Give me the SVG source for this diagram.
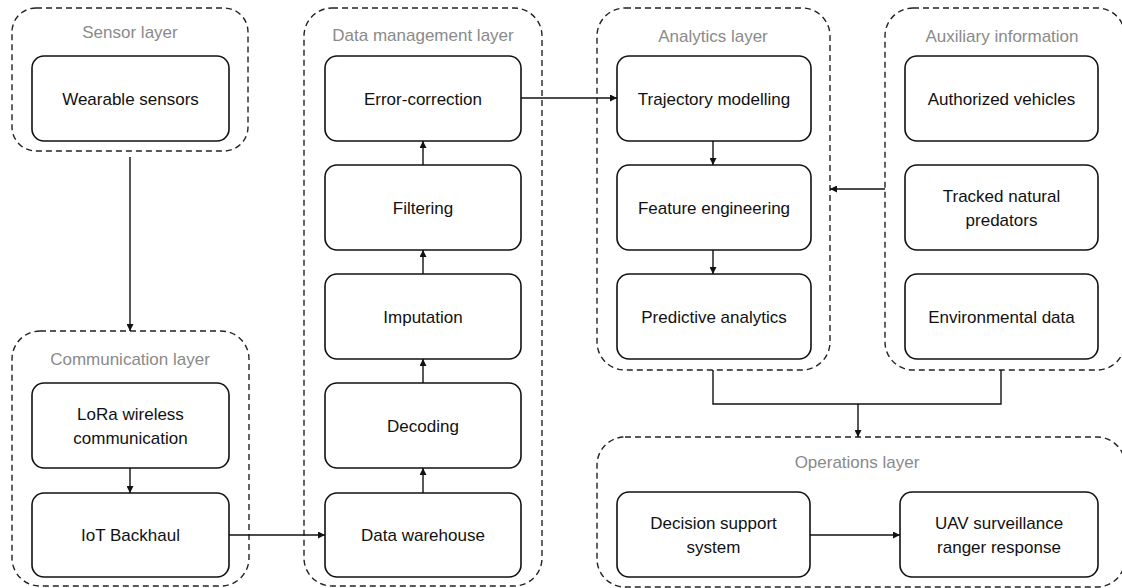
<svg xmlns="http://www.w3.org/2000/svg" width="1122" height="588" viewBox="0 0 1122 588">
<defs>
<style>
.layer{fill:none;stroke:#222;stroke-width:1.4;stroke-dasharray:6 4}
.box{fill:#fff;stroke:#111;stroke-width:1.6}
.title{font-family:"Liberation Sans",Arial,sans-serif;font-size:17px;fill:#8a8a8a;text-anchor:middle}
.lbl{font-family:"Liberation Sans",Arial,sans-serif;font-size:17px;fill:#111;text-anchor:middle}
.conn{fill:none;stroke:#111;stroke-width:1.4}
</style>
<marker id="ah" viewBox="0 0 10 10" refX="10" refY="5" markerWidth="7" markerHeight="7" markerUnits="userSpaceOnUse" orient="auto">
<path d="M0,0 L10,5 L0,10 z" fill="#111"/>
</marker>
</defs>
<rect width="1122" height="588" fill="#fff"/>

<g id="sensor-layer">
<rect class="layer" x="12" y="8" width="236" height="143" rx="24"/>
<text class="title" x="130" y="38">Sensor layer</text>
</g>
<g id="wearable-sensors">
<rect class="box" x="32" y="56" width="197" height="85" rx="12"/>
<text class="lbl" x="130.5" y="104.5">Wearable sensors</text>
</g>

<g id="communication-layer">
<rect class="layer" x="12" y="331" width="237" height="255" rx="28"/>
<text class="title" x="130" y="365">Communication layer</text>
</g>
<g id="lora">
<rect class="box" x="32" y="383" width="197" height="85" rx="12"/>
<text class="lbl" x="130.5" y="420">LoRa wireless</text>
<text class="lbl" x="130.5" y="444">communication</text>
</g>
<g id="iot-backhaul">
<rect class="box" x="32" y="493" width="197" height="84" rx="12"/>
<text class="lbl" x="130.5" y="541">IoT Backhaul</text>
</g>

<g id="data-management-layer">
<rect class="layer" x="304" y="8" width="238" height="578" rx="28"/>
<text class="title" x="423" y="41">Data management layer</text>
</g>
<g id="error-correction">
<rect class="box" x="325" y="56" width="196" height="85" rx="12"/>
<text class="lbl" x="423" y="104.5">Error-correction</text>
</g>
<g id="filtering">
<rect class="box" x="325" y="165" width="196" height="85" rx="12"/>
<text class="lbl" x="423" y="213.5">Filtering</text>
</g>
<g id="imputation">
<rect class="box" x="325" y="274" width="196" height="85" rx="12"/>
<text class="lbl" x="423" y="322.5">Imputation</text>
</g>
<g id="decoding">
<rect class="box" x="325" y="383" width="196" height="85" rx="12"/>
<text class="lbl" x="423" y="431.5">Decoding</text>
</g>
<g id="data-warehouse">
<rect class="box" x="325" y="493" width="196" height="84" rx="12"/>
<text class="lbl" x="423" y="541">Data warehouse</text>
</g>

<g id="analytics-layer">
<rect class="layer" x="597" y="8" width="233" height="362" rx="28"/>
<text class="title" x="713" y="42">Analytics layer</text>
</g>
<g id="trajectory-modelling">
<rect class="box" x="617" y="56" width="194" height="85" rx="12"/>
<text class="lbl" x="714" y="104.5">Trajectory modelling</text>
</g>
<g id="feature-engineering">
<rect class="box" x="617" y="165" width="194" height="85" rx="12"/>
<text class="lbl" x="714" y="213.5">Feature engineering</text>
</g>
<g id="predictive-analytics">
<rect class="box" x="617" y="274" width="194" height="85" rx="12"/>
<text class="lbl" x="714" y="322.5">Predictive analytics</text>
</g>

<g id="auxiliary-information">
<rect class="layer" x="885" y="8" width="240" height="362" rx="28"/>
<text class="title" x="1002" y="42">Auxiliary information</text>
</g>
<g id="authorized-vehicles">
<rect class="box" x="905" y="56" width="193" height="85" rx="12"/>
<text class="lbl" x="1001.5" y="104.5">Authorized vehicles</text>
</g>
<g id="tracked-predators">
<rect class="box" x="905" y="165" width="193" height="85" rx="12"/>
<text class="lbl" x="1001.5" y="201.5">Tracked natural</text>
<text class="lbl" x="1001.5" y="225.5">predators</text>
</g>
<g id="environmental-data">
<rect class="box" x="905" y="274" width="193" height="85" rx="12"/>
<text class="lbl" x="1001.5" y="322.5">Environmental data</text>
</g>

<g id="operations-layer">
<rect class="layer" x="597" y="437" width="528" height="150" rx="28"/>
<text class="title" x="857" y="468">Operations layer</text>
</g>
<g id="decision-support">
<rect class="box" x="617" y="492" width="193" height="85" rx="12"/>
<text class="lbl" x="713.5" y="529">Decision support</text>
<text class="lbl" x="713.5" y="553">system</text>
</g>
<g id="uav-ranger">
<rect class="box" x="900" y="492" width="198" height="85" rx="12"/>
<text class="lbl" x="999" y="529">UAV surveillance</text>
<text class="lbl" x="999" y="553">ranger response</text>
</g>

<g id="connectors">
<path class="conn" d="M130,157 V331" marker-end="url(#ah)"/>
<path class="conn" d="M130,468 V493" marker-end="url(#ah)"/>
<path class="conn" d="M229,535 H325" marker-end="url(#ah)"/>
<path class="conn" d="M423,493 V468" marker-end="url(#ah)"/>
<path class="conn" d="M423,383 V359" marker-end="url(#ah)"/>
<path class="conn" d="M423,274 V250" marker-end="url(#ah)"/>
<path class="conn" d="M423,165 V141" marker-end="url(#ah)"/>
<path class="conn" d="M521,98 H617" marker-end="url(#ah)"/>
<path class="conn" d="M713,141 V165" marker-end="url(#ah)"/>
<path class="conn" d="M713,250 V274" marker-end="url(#ah)"/>
<path class="conn" d="M885,189 H830" marker-end="url(#ah)"/>
<path class="conn" d="M713,370 V404 H1001 V370"/>
<path class="conn" d="M858,404 V437" marker-end="url(#ah)"/>
<path class="conn" d="M810,535 H900" marker-end="url(#ah)"/>
</g>
</svg>
